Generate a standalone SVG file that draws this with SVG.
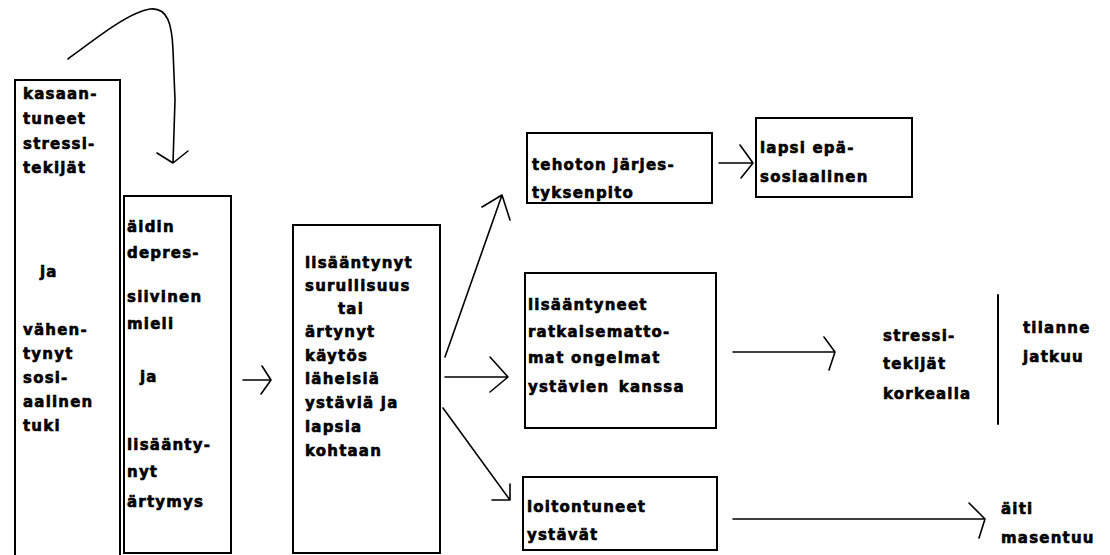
<svg xmlns="http://www.w3.org/2000/svg" width="1110" height="555" viewBox="0 0 1110 555">
<style>
.box{fill:#fff;stroke:#000;stroke-width:2}
.t{font-family:"DejaVu Sans","Liberation Sans",sans-serif;font-weight:bold;font-size:15px;letter-spacing:1.2px;fill:#000;stroke:#000;stroke-width:0.6}
.c{fill:none;stroke:#000;stroke-width:1.6;stroke-linecap:round;stroke-linejoin:round}
</style>
<rect width="1110" height="555" fill="#fff"/>
<g id="connectors">
<path class="c" d="M68,59 C100,35 130,12 150,9 C168,7 172,25 173,50 L175,100 L173,163 M157,153 L173,163 L188,151"/>
<path class="c" d="M243,380 L271,380 M262,366 L271,380 L261,394"/>
<path class="c" d="M445,357 L502,195 M482,207 L502,195 L510,220"/>
<path class="c" d="M445,377 L508,377 M490,357 L508,377 L490,392"/>
<path class="c" d="M443,408 L510,500 M510,484 L510,500 L492,500"/>
<path class="c" d="M719,163 L753,163 M740,145 L753,163 L741,178"/>
<path class="c" d="M733,352 L835,352 M824,337 L835,352 L829,370"/>
<path class="c" d="M733,519 L985,519 M969,503 L985,519 L979,538"/>
<path class="c" d="M998,295 L998,424" style="stroke-width:2"/>
</g>
<g id="n1">
<path class="box" d="M15,560 L15,80 L120,80 L120,560"/>
<text class="t" x="23" y="99">kasaan-</text>
<text class="t" x="23" y="124">tuneet</text>
<text class="t" x="23" y="149">stressi-</text>
<text class="t" x="23" y="173">tekijät</text>
<text class="t" x="40" y="277">ja</text>
<text class="t" x="23" y="335">vähen-</text>
<text class="t" x="23" y="359">tynyt</text>
<text class="t" x="23" y="383">sosi-</text>
<text class="t" x="23" y="407">aalinen</text>
<text class="t" x="23" y="431">tuki</text>
</g>
<g id="n2">
<rect class="box" x="124" y="196" width="107" height="357"/>
<text class="t" x="127" y="232">äidin</text>
<text class="t" x="127" y="258">depres-</text>
<text class="t" x="127" y="302">siivinen</text>
<text class="t" x="127" y="329">mieli</text>
<text class="t" x="140" y="382">ja</text>
<text class="t" x="127" y="450">lisäänty-</text>
<text class="t" x="127" y="477">nyt</text>
<text class="t" x="127" y="507">ärtymys</text>
</g>
<g id="n3">
<rect class="box" x="293" y="225" width="147" height="328"/>
<text class="t" x="305" y="268">lisääntynyt</text>
<text class="t" x="305" y="291">surullisuus</text>
<text class="t" x="338" y="314">tai</text>
<text class="t" x="305" y="337">ärtynyt</text>
<text class="t" x="305" y="361">käytös</text>
<text class="t" x="305" y="384">läheisiä</text>
<text class="t" x="305" y="408">ystäviä ja</text>
<text class="t" x="305" y="432">lapsia</text>
<text class="t" x="305" y="456">kohtaan</text>
</g>
<g id="n4">
<rect class="box" x="527" y="133" width="185" height="70"/>
<text class="t" x="532" y="170">tehoton järjes-</text>
<text class="t" x="532" y="198">tyksenpito</text>
</g>
<g id="n5">
<rect class="box" x="756" y="118" width="156" height="79"/>
<text class="t" x="760" y="153">lapsi epä-</text>
<text class="t" x="760" y="182">sosiaalinen</text>
</g>
<g id="n6">
<rect class="box" x="525" y="273" width="191" height="155"/>
<text class="t" x="528" y="310">lisääntyneet</text>
<text class="t" x="528" y="337">ratkaisematto-</text>
<text class="t" x="528" y="363">mat ongelmat</text>
<text class="t" x="528" y="392" word-spacing="3">ystävien kanssa</text>
</g>
<g id="n7">
<rect class="box" x="523" y="477" width="194" height="73"/>
<text class="t" x="527" y="512">loitontuneet</text>
<text class="t" x="527" y="540">ystävät</text>
</g>
<g id="n8">
<text class="t" x="883" y="341">stressi-</text>
<text class="t" x="883" y="369">tekijät</text>
<text class="t" x="883" y="399">korkealla</text>
</g>
<g id="n9">
<text class="t" x="1023" y="333">tilanne</text>
<text class="t" x="1023" y="362">jatkuu</text>
</g>
<g id="n10">
<text class="t" x="1001" y="514">äiti</text>
<text class="t" x="1001" y="543">masentuu</text>
</g>
</svg>
